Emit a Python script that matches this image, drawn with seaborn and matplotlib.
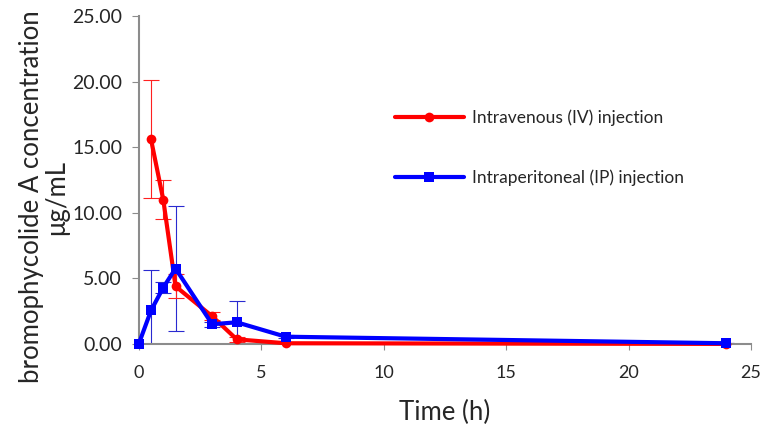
import pandas as pd
import matplotlib
matplotlib.use("Agg")
import matplotlib.pyplot as plt
import seaborn as sns

# Values
time_iv = [0.5, 1, 1.5, 3, 4, 6, 24]
conc_iv = [15.6, 11.0, 4.4, 2.1, 0.35, 0.05, 0.0]
err_iv = [4.5, 1.5, 0.9, 0.3, 0.2, 0.05, 0.0]

time_ip = [0, 0.5, 1, 1.5, 3, 4, 6, 24]
conc_ip = [0.0, 2.55, 4.3, 5.75, 1.5, 1.65, 0.55, 0.05]
err_ip = [0.0, 3.1, 0.4, 4.75, 0.2, 1.65, 0.1, 0.0]

label_iv = "Intravenous (IV) injection"
label_ip = "Intraperitoneal (IP) injection"

df = pd.concat([
    pd.DataFrame({"time": time_iv, "conc": conc_iv, "err": err_iv, "route": label_iv}),
    pd.DataFrame({"time": time_ip, "conc": conc_ip, "err": err_ip, "route": label_ip}),
], ignore_index=True)

colors = {label_iv: "#ff0000", label_ip: "#0000ff"}
err_colors = {label_iv: "#ff2020", label_ip: "#2a2ad0"}
markers = {label_iv: "o", label_ip: "s"}

sns.set_style("white")
plt.rcParams["font.family"] = ["Lato", "DejaVu Sans"]

fig = plt.figure(figsize=(7.71, 4.37), dpi=100)
ax = fig.add_axes([0.180, 0.213, 0.794, 0.750])

# error bars first, thin, same colour as series
for route, grp in df.groupby("route"):
    ax.errorbar(grp["time"], grp["conc"], yerr=grp["err"], fmt="none",
                ecolor=err_colors[route], elinewidth=0.8, capsize=6,
                capthick=0.8, zorder=2)

sns.lineplot(data=df, x="time", y="conc", hue="route", style="route",
             palette=colors, markers=markers, dashes=False, linewidth=3,
             markersize=7, markeredgewidth=0, ax=ax, zorder=3,
             hue_order=[label_iv, label_ip], style_order=[label_iv, label_ip],
             clip_on=False)

ax.set_xlim(0, 25)
ax.set_ylim(0, 25)
ax.set_xticks([0, 5, 10, 15, 20, 25])
ax.set_yticks([0, 5, 10, 15, 20, 25])
ax.set_yticklabels([f"{v:.2f}" for v in [0, 5, 10, 15, 20, 25]])
ax.tick_params(axis="y", labelsize=14, length=5, color="#8c8c8c",
               direction="out", pad=7, left=True)
ax.tick_params(axis="x", labelsize=13, length=4, color="#8c8c8c",
               direction="out", pad=11, bottom=True)

for side in ["top", "right"]:
    ax.spines[side].set_visible(False)
for side in ["left", "bottom"]:
    ax.spines[side].set_color("#8c8c8c")
    ax.spines[side].set_linewidth(1.5)

ax.set_xlabel("Time (h)", fontsize=18.5)
ax.xaxis.set_label_coords(0.5, -0.172)
ax.set_ylabel("bromophycolide A concentration\nμg/mL", fontsize=18.5,
              linespacing=1.05)
ax.yaxis.set_label_coords(-0.113, 0.448)

ax.legend(frameon=False, fontsize=12.5, loc="center left",
          bbox_to_anchor=(0.418, 0.599), labelspacing=2.5, handlelength=4.0,
          handletextpad=0.45, borderpad=0, borderaxespad=0, title=None)

fig.savefig("out.png", dpi=100)
